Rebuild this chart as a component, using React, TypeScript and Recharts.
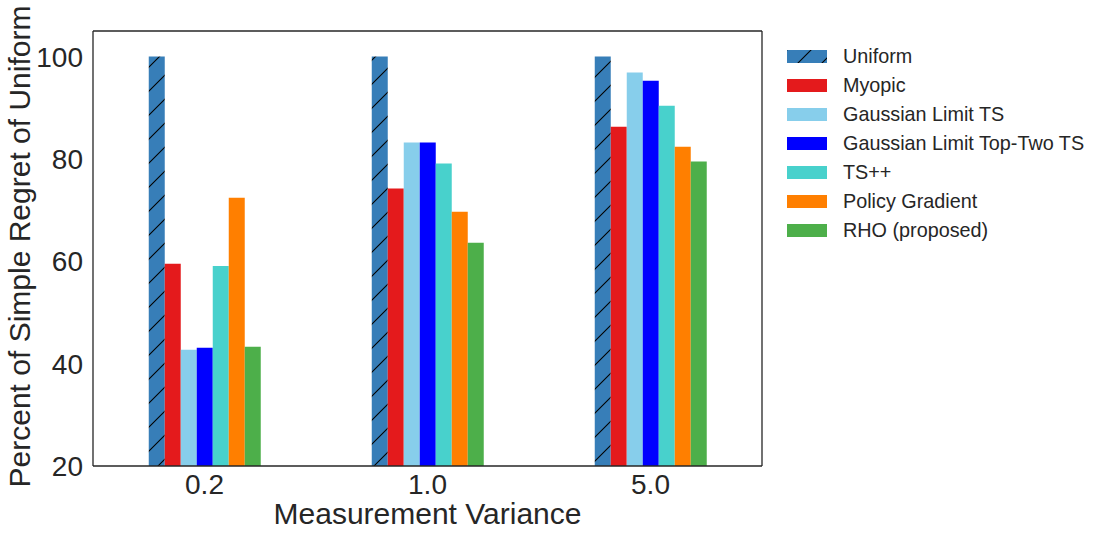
import React from 'react';
import { BarChart, Bar, XAxis, YAxis, Legend, Label } from 'recharts';

const categories = ['0.2', '1.0', '5.0'];
const uniform = [100, 100, 100];
const myopic = [59.5, 74.2, 86.3];
const gaussianTS = [42.7, 83.2, 96.9];
const topTwoTS = [43.1, 83.2, 95.3];
const tsPlusPlus = [59.1, 79.1, 90.4];
const policyGradient = [72.4, 69.7, 82.4];
const rho = [43.3, 63.6, 79.5];
const yTicks = [20, 40, 60, 80, 100];

const seriesNames = [
  'Uniform',
  'Myopic',
  'Gaussian Limit TS',
  'Gaussian Limit Top-Two TS',
  'TS++',
  'Policy Gradient',
  'RHO (proposed)',
];
const seriesKeys = ['uniform', 'myopic', 'gts', 'ttts', 'tspp', 'pg', 'rho'];
const seriesColors = ['url(#hatchUniform)', '#e41a1c', '#87ceeb', '#0000ff', '#48d1cc', '#ff7f00', '#4daf4a'];

const data = categories.map((c, i) => ({
  variance: c,
  uniform: uniform[i],
  myopic: myopic[i],
  gts: gaussianTS[i],
  ttts: topTwoTS[i],
  tspp: tsPlusPlus[i],
  pg: policyGradient[i],
  rho: rho[i],
}));

const TEXT = '#262626';
const FONT = '"Liberation Sans", Arial, sans-serif';

const renderLegend = () => {
  return (
    <div style={{ fontFamily: FONT }}>
      {seriesNames.map((name, i) => (
        <div key={name} style={{ display: 'flex', alignItems: 'center', height: 29 }}>
          <svg width={40} height={13} style={{ display: 'block' }}>
            <rect x={0} y={0} width={40} height={13} fill={seriesColors[i]} />
          </svg>
          <span style={{ marginLeft: 16, fontSize: 19.8, color: TEXT, whiteSpace: 'nowrap' }}>{name}</span>
        </div>
      ))}
    </div>
  );
};

const renderYLabel = (props: any) => {
  const vb = props.viewBox || { x: 0, y: 31, width: 93, height: 435 };
  const cx = vb.x + 30;
  const cy = vb.y + vb.height / 2 - 2;
  return (
    <text
      x={cx}
      y={cy}
      transform={`rotate(-90, ${cx}, ${cy})`}
      textAnchor="middle"
      fontSize={30}
      fill={TEXT}
      fontFamily={FONT}
    >
      Percent of Simple Regret of Uniform
    </text>
  );
};

export default function App() {
  return (
    <div style={{ position: 'absolute', left: 0, top: 0, width: 1101, height: 537, background: '#fff' }}>
      <BarChart
        width={1101}
        height={537}
        data={data}
        margin={{ top: 30, right: 338, bottom: 0, left: 0 }}
        barCategoryGap="25%"
        barGap={0}
        style={{ fontFamily: FONT }}
      >
        <defs>
          <pattern id="hatchUniform" patternUnits="userSpaceOnUse" width={24} height={24}>
            <rect x={0} y={0} width={24} height={24} fill="#377eb8" />
            <path d="M0,24 L24,0 M-6,6 L6,-6 M18,30 L30,18" stroke="#000" strokeWidth={1.1} />
          </pattern>
        </defs>
        <XAxis
          dataKey="variance"
          height={71}
          tickLine={false}
          axisLine={{ stroke: TEXT, strokeWidth: 1.3 }}
          tick={{ fontSize: 28, fill: TEXT, fontFamily: FONT }}
        >
          <Label
            value="Measurement Variance"
            position="insideBottom"
            offset={13}
            style={{ fontSize: 30, fill: TEXT, fontFamily: FONT }}
          />
        </XAxis>
        <XAxis
          xAxisId="top"
          dataKey="variance"
          orientation="top"
          height={1}
          tick={false}
          tickLine={false}
          axisLine={{ stroke: TEXT, strokeWidth: 1.3 }}
        />
        <YAxis
          width={93}
          domain={[20, 105]}
          ticks={yTicks}
          allowDataOverflow
          tickLine={false}
          tickMargin={4}
          axisLine={{ stroke: TEXT, strokeWidth: 1.3 }}
          tick={{ fontSize: 28, fill: TEXT, fontFamily: FONT }}
        >
          <Label content={renderYLabel} />
        </YAxis>
        <YAxis
          yAxisId="right"
          orientation="right"
          width={1}
          domain={[0, 1]}
          tick={false}
          tickLine={false}
          axisLine={{ stroke: TEXT, strokeWidth: 1.3 }}
        />
        <Legend
          layout="vertical"
          align="center"
          verticalAlign="middle"
          content={renderLegend}
          wrapperStyle={{ left: 787, top: 42, width: 310, height: 'auto' }}
        />
        {seriesKeys.map((k, i) => (
          <Bar key={k} dataKey={k} name={seriesNames[i]} fill={seriesColors[i]} isAnimationActive={false} />
        ))}
      </BarChart>
    </div>
  );
}
